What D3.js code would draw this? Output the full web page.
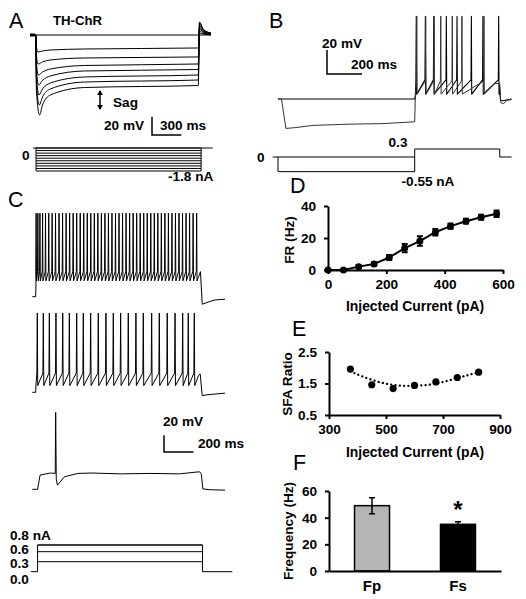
<!DOCTYPE html>
<html><head><meta charset="utf-8">
<script src="https://cdn.jsdelivr.net/npm/d3@7"></script>
<style>
body{margin:0;background:#fff}
svg text{font-family:"Liberation Sans",Arial,Helvetica,sans-serif;fill:#000}
</style></head><body>
<svg id="chart" width="526" height="599"></svg>
<script>
// ================= DATA =================
// Panel A: hyperpolarizing steps (mV relative to rest)
const aStepsNA = [0,-0.2,-0.4,-0.6,-0.8,-1.0,-1.2,-1.4,-1.6,-1.8];
const aPeak   = [-18.6,-31.7,-43.7,-54.6,-65.6,-76.5,-87.4];
const aEarly  = [-16.4,-27.3,-37.2,-44.8,-52.5,-59.0,-65.6];
const aMid    = [-15.3,-25.1,-33.3,-39.3,-45.9,-51.4,-57.4];
const aSteady = [-14.2,-24.0,-31.7,-37.7,-43.7,-49.2,-55.2];
const aRebound= [2.2,4.4,6.6,8.7,10.9,13.1,14.2];
const aTimes  = {start:0,on:58,off:1723,end:1853}; // ms

// Panel B
const bTimes = {start:0,step:781,off:1267,end:1335}; // ms
const bHyper = [[0,0],[20,0],[45,-24.5],[90,-24],[200,-22],[400,-21],[600,-20.5],[781,-19]];
const bSpikes1 = [790,842,890,962,1023,1105,1171,1261];
const bSpikes2 = [793,844,892,930,996,1051,1177];

// Panel C: three depolarizing steps
const cTimes = {start:0,on:23,off:1148,end:1311};
const cSpikes1 = [26,38,52,70,90,112,135,158,182,206,230,254,278,302,326,350,374,398,422,446,470,494,518,542,566,590,614,638,662,686,710,734,758,782,806,830,854,878,902,926,950,974,998,1022,1046,1070,1094,1118];
const cSpikes2 = [34,75,116,161,207,252,302,347,397,449,501,551,601,653,705,755,812,864,918,971,1023,1061,1102];
const cSpikes3 = [159];
const cCurrentNA = [0.3,0.6,0.8];
const cCurrentLabels = ["0.8 nA","0.6","0.3","0.0"];

// Panel D
const dCurrent = [0,53,105,158,210,263,315,368,420,473,525,578];
const dFR      = [0,0,2.1,3.8,7.8,13.7,18.1,23.6,27.4,30.5,33.0,35.2];
const dErr     = [0.4,0.4,0.8,1.0,1.6,2.6,3.0,2.0,1.6,1.5,1.6,2.0];
const dXTicks = [0,200,400,600];
const dYTicks = [0,20,40];

// Panel E
const eCurrent = [375,450,525,600,675,750,825];
const eSFA     = [1.96,1.46,1.34,1.44,1.55,1.69,1.86];
const eTrend   = [1.88,1.60,1.43,1.41,1.48,1.67,1.86];
const eXTicks = [300,500,700,900];
const eYTicks = [0.5,1.5,2.5];

// Panel F
const fCats   = ["Fp","Fs"];
const fFreq   = [49,35];
const fErr    = [6,2];
const fColors = ["#b5b5b5","#000000"];
const fYTicks = [0,20,40,60];

// ================= HELPERS =================
const svg = d3.select("#chart");
const FONT = '"Liberation Sans",Arial,sans-serif';
const FS = 13.6;
function label(x,y,s,size,opt={}){
  const t = svg.append("text").attr("x",x).attr("y",y).attr("font-size",size)
    .attr("font-weight",opt.weight||"bold").attr("text-anchor",opt.anchor||"start").text(s);
  if(opt.rotate) t.attr("transform",`rotate(${opt.rotate},${x},${y})`);
  return t;
}
function path(pts,xs,ys,opt={}){
  svg.append("path")
    .attr("d", d3.line().x(d=>xs(d[0])).y(d=>ys(d[1])).curve(opt.curve||d3.curveLinear)(pts))
    .attr("fill",opt.fill||"none").attr("stroke",opt.color||"#000")
    .attr("stroke-width",opt.w||1).attr("stroke-linejoin","round")
    .attr("stroke-dasharray",opt.dash||null).attr("stroke-linecap",opt.cap||"butt");
}
function spikeTrain(c){
  const p=[[c.t0,0],[c.tOn,0],[c.tOn+c.rise,c.plateau]];
  c.spikes.forEach(s=>{
    p.push([s-c.hw,c.thr]); p.push([s,c.peak]); p.push([s+c.hw,c.ahp]);
  });
  c.tail.forEach(q=>p.push(q));
  return p;
}
function scaleBar(x0,y0,xs,ys,ms,mv){
  const xl = xs(ms)-xs(0), yl = ys(0)-ys(mv);
  svg.append("path").attr("d",`M${x0},${y0-yl}V${y0}H${x0+xl}`)
    .attr("fill","none").attr("stroke","#000").attr("stroke-width",1.5);
}

// ================= PANEL A =================
label(9,28,"A",21.5,{weight:"normal"});
label(53,25,"TH-ChR",13.2);
{
  const xs = d3.scaleLinear().domain([0,1853]).range([30,211]);
  const ys = d3.scaleLinear().domain([0,-20]).range([35,53.3]);
  const T = aTimes;
  path([[T.start,0],[T.end,0]],xs,ys,{w:1});
  path([[T.start,0],[50,0]],xs,ys,{w:3});
  aPeak.forEach((pk,i)=>{
    const pts=[[T.start,0],[T.on,0],[T.on+8,pk*0.7],[T.on+22+i*3,pk],[T.on+70,(pk+aEarly[i])/2],
      [T.on+150,aEarly[i]],[T.on+500,aMid[i]],[T.off,aSteady[i]],[T.off+12,aRebound[i]],
      [T.off+50,aRebound[i]*0.45],[T.end,aRebound[i]*0.15]];
    path(pts,xs,ys,{w:1,curve:d3.curveMonotoneX});
  });
  scaleBar(152,135,xs,ys,300,20);
  label(104,130,"20 mV",FS);
  label(160,130,"300 ms",FS);
  svg.append("path").attr("d","M100,91V109").attr("stroke","#000").attr("stroke-width",1.5);
  svg.append("path").attr("d","M97,95L100,90L103,95Z M97,105L100,110L103,105Z").attr("fill","#000");
  label(113,107,"Sag",FS);
  const ic = d3.scaleLinear().domain([0,-1.8]).range([148,171]);
  const xc = d3.scaleLinear().domain([0,1853]).range([30,211]);
  path([[30,0],[1870,0]],xc,ic,{w:1});
  aStepsNA.forEach(a=>{ path([[62,a],[1752,a]],xc,ic,{w:1}); });
  path([[62,0],[62,-1.8]],xc,ic,{w:1});
  path([[1752,0],[1752,-1.8]],xc,ic,{w:1});
  label(22,160,"0",FS);
  label(168,181,"-1.8 nA",FS);
}

// ================= PANEL B =================
label(269,28,"B",21.5,{weight:"normal"});
{
  const xs = d3.scaleLinear().domain([0,200]).range([278,313]);
  const ys = d3.scaleLinear().domain([0,20]).range([99,75]);
  const T=bTimes;
  const tail1=[[T.off-2,12],[T.off+4,-1],[T.off+20,-1.5],[T.end,0]];
  const s1 = spikeTrain({t0:0,tOn:T.step,rise:4,plateau:3,spikes:bSpikes1,hw:2,thr:16,peak:69,ahp:4,tail:tail1});
  path(s1,xs,ys,{w:1.1});
  const s2 = spikeTrain({t0:0,tOn:T.step,rise:4,plateau:3,spikes:bSpikes2,hw:2,thr:15,peak:69,ahp:4,
    tail:[[1240,13],[T.off,13],[T.off+6,-3],[T.off+22,-4],[T.off+40,-1],[T.end,-0.5]]});
  path(bHyper.concat(s2.slice(2)),xs,ys,{w:1,color:"#333"});
  scaleBar(327,74,xs,ys,200,20);
  label(322,48,"20 mV",FS);
  label(351,69,"200 ms",FS);
  const ic = d3.scaleLinear().domain([0,0.3]).range([157,149]);
  path([[-30,0],[T.step,0],[T.step,0.3],[T.off,0.3],[T.off,0],[T.end,0]],xs,ic,{w:1});
  path([[0,0],[0,-0.55],[T.step,-0.55],[T.step,0]],xs,ic,{w:1});
  label(257,162,"0",FS);
  label(398,147,"0.3",FS,{anchor:"middle"});
  label(428,186,"-0.55 nA",FS,{anchor:"middle"});
}

// ================= PANEL C =================
label(8,207,"C",21.5,{weight:"normal"});
{
  const xs = d3.scaleLinear().domain([0,200]).range([32.3,61.7]);
  const T=cTimes;
  const ys1 = d3.scaleLinear().domain([0,20]).range([296.7,280]);
  const tr1 = spikeTrain({t0:0,tOn:T.on,rise:2,plateau:16,spikes:cSpikes1,hw:2.5,thr:30,peak:100,ahp:19,
    tail:[[T.off-4,30],[T.off+8,-9],[T.off+40,-7],[T.off+90,-4],[T.end,-3]]});
  path(tr1,xs,ys1,{w:1});
  const ys2 = d3.scaleLinear().domain([0,20]).range([392.3,375.6]);
  const tr2 = spikeTrain({t0:0,tOn:T.on,rise:2,plateau:9,spikes:cSpikes2,hw:3,thr:23,peak:95,ahp:8,
    tail:[[1130,20],[T.off-6,22],[T.off+8,-4],[T.off+40,-3],[T.end,-1]]});
  path(tr2,xs,ys2,{w:1});
  const ys3 = d3.scaleLinear().domain([0,20]).range([489.3,472.6]);
  const tr3 = [[0,0],[T.on+13,0],[T.on+30,17],[T.on+100,19.5],[cSpikes3[0]-3,19],[cSpikes3[0],92],[cSpikes3[0]+4,12],
    [cSpikes3[0]+12,5],[cSpikes3[0]+60,15],[cSpikes3[0]+150,19],[400,19.5],[600,18.5],[800,19],[1000,18.5],
    [T.off-10,21],[T.off+2,18],[T.off+12,0.5],[T.off+60,-0.5],[T.end,-1]];
  path(tr3,xs,ys3,{w:1});
  scaleBar(164,452,xs,ys3,200,20);
  label(163,426,"20 mV",FS);
  label(198,448,"200 ms",FS);
  const ic = d3.scaleLinear().domain([0,0.8]).range([571.7,545]);
  path([[-10,0],[T.on+13,0],[T.on+13,0.8],[T.off+10,0.8],[T.off+10,0],[T.end+50,0]],xs,ic,{w:1});
  cCurrentNA.forEach(a=>path([[T.on+13,a],[T.off+10,a]],xs,ic,{w:1}));
  label(10,540,cCurrentLabels[0],FS);
  label(10,554,cCurrentLabels[1],FS);
  label(10,568,cCurrentLabels[2],FS);
  label(10,584,cCurrentLabels[3],FS);
}

// ================= AXIS STYLE =================
function styleAxis(g){
  g.selectAll("path.domain").attr("stroke","#000").attr("stroke-width",2);
  g.selectAll(".tick line").attr("stroke","#000").attr("stroke-width",2);
  g.selectAll(".tick text").attr("font-size",FS).attr("font-weight","bold")
    .attr("font-family",FONT).attr("fill","#000");
}

// ================= PANEL D =================
label(290,193,"D",21.5,{weight:"normal"});
{
  const x = d3.scaleLinear().domain([0,600]).range([328,503]);
  const y = d3.scaleLinear().domain([0,40]).range([270,206]);
  svg.append("g").attr("transform","translate(0,270)")
    .call(d3.axisBottom(x).tickValues(dXTicks).tickSizeInner(4).tickSizeOuter(0).tickPadding(5)).call(styleAxis);
  svg.append("g").attr("transform","translate(328,0)")
    .call(d3.axisLeft(y).tickValues(dYTicks).tickSizeInner(4).tickSizeOuter(0).tickPadding(8)).call(styleAxis);
  const pts = dCurrent.map((c,i)=>[c,dFR[i]]);
  path(pts,x,y,{w:2});
  dCurrent.forEach((c,i)=>{
    const cx=x(c), y1=y(dFR[i]+dErr[i]), y2=y(dFR[i]-dErr[i]);
    svg.append("path").attr("d",`M${cx},${y1}V${y2}M${cx-3},${y1}H${cx+3}M${cx-3},${y2}H${cx+3}`)
      .attr("stroke","#000").attr("stroke-width",2);
  });
  svg.append("g").selectAll("circle").data(pts).join("circle")
    .attr("cx",d=>x(d[0])).attr("cy",d=>y(d[1])).attr("r",3.5).attr("fill","#000");
  label(415,311,"Injected Current (pA)",13.9,{anchor:"middle"});
  label(294,240,"FR (Hz)",13.6,{anchor:"middle",rotate:-90});
}

// ================= PANEL E =================
label(292,336,"E",21.5,{weight:"normal"});
{
  const x = d3.scaleLinear().domain([300,900]).range([329,500]);
  const y = d3.scaleLinear().domain([0.5,2.5]).range([415,352]);
  svg.append("g").attr("transform","translate(0,415)")
    .call(d3.axisBottom(x).tickValues(eXTicks).tickSizeInner(4).tickSizeOuter(0).tickPadding(5)).call(styleAxis);
  svg.append("g").attr("transform","translate(329,0)")
    .call(d3.axisLeft(y).tickValues(eYTicks).tickFormat(d3.format(".1f")).tickSizeInner(4).tickSizeOuter(0).tickPadding(8)).call(styleAxis);
  path(eCurrent.map((c,i)=>[c,eTrend[i]]),x,y,{w:2.3,dash:"0.1,4.2",cap:"round",curve:d3.curveBasis});
  svg.append("g").selectAll("circle").data(eCurrent).join("circle")
    .attr("cx",d=>x(d)).attr("cy",(d,i)=>y(eSFA[i])).attr("r",3.6).attr("fill","#000");
  label(415,457,"Injected Current (pA)",13.9,{anchor:"middle"});
  label(292,384,"SFA Ratio",13.6,{anchor:"middle",rotate:-90});
}

// ================= PANEL F =================
label(293,470,"F",21.5,{weight:"normal"});
{
  const x = d3.scaleBand().domain(fCats).range([329,501]).paddingInner(0.593).paddingOuter(0.297);
  const y = d3.scaleLinear().domain([0,60]).range([571,491]);
  svg.append("g").selectAll("rect").data(fCats).join("rect")
    .attr("x",d=>x(d)).attr("width",x.bandwidth()).attr("y",(d,i)=>y(fFreq[i]))
    .attr("height",(d,i)=>y(0)-y(fFreq[i])).attr("fill",(d,i)=>fColors[i])
    .attr("stroke","#000").attr("stroke-width",1.5);
  fCats.forEach((c,i)=>{
    const cx=x(c)+x.bandwidth()/2, y1=y(fFreq[i]+fErr[i]), y2=y(fFreq[i]-fErr[i]);
    svg.append("path").attr("d",`M${cx},${y1}V${y2}M${cx-3},${y1}H${cx+3}M${cx-3},${y2}H${cx+3}`)
      .attr("stroke","#000").attr("stroke-width",1.5);
  });
  const xa = svg.append("g").attr("transform","translate(0,571)")
    .call(d3.axisBottom(x).tickSize(0).tickPadding(9)).call(styleAxis);
  xa.selectAll(".tick text").attr("font-size",15);
  svg.append("g").attr("transform","translate(329,0)")
    .call(d3.axisLeft(y).tickValues(fYTicks).tickSizeInner(4).tickSizeOuter(0).tickPadding(8)).call(styleAxis);
  label(x("Fs")+x.bandwidth()/2,518,"*",24,{anchor:"middle"});
  label(293,531,"Frequency (Hz)",13.6,{anchor:"middle",rotate:-90});
}
</script>
</body></html>
